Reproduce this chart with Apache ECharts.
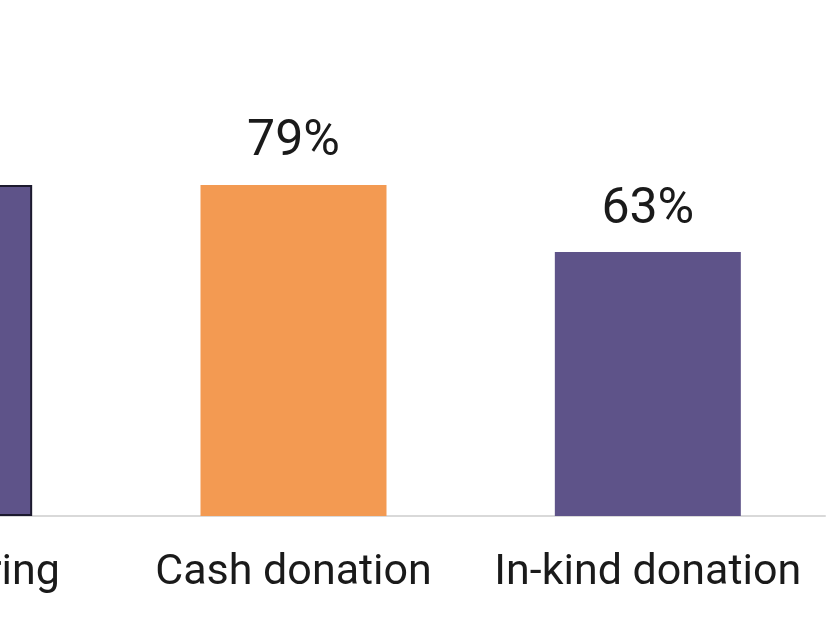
<!DOCTYPE html>
<html>
<head>
<meta charset="utf-8">
<style>html,body{margin:0;padding:0;background:#fff;overflow:hidden;width:830px;height:622px;}
#wrap{position:relative;width:830px;height:622px;overflow:hidden;}
#c{position:absolute;left:-238px;top:0;width:1068px;height:622px;}</style>
<script src="https://cdn.jsdelivr.net/npm/echarts@6/dist/echarts.min.js"></script>
</head>
<body>
<div id="wrap"><div id="c"></div></div>
<script>
const categories = ['Volunteering', 'Cash donation', 'In-kind donation'];
const values = [79, 79, 63];
const barColors = ['#5e5389', '#f39a52', '#5e5389'];

const chart = echarts.init(document.getElementById('c'), null, {renderer: 'canvas'});
chart.setOption({
  animation: false,
  grid: {left: 0, right: 5, top: 97, bottom: 106, containLabel: false},
  xAxis: {
    type: 'category',
    data: categories,
    axisLine: {show: true, lineStyle: {color: '#d9d9d9', width: 2}},
    axisTick: {show: false},
    axisLabel: {interval: 0, color: '#1a1a1a', fontFamily: 'Roboto', fontSize: 43, margin: 36}
  },
  yAxis: {type: 'value', min: 0, max: 100, show: false, splitLine: {show: false}},
  series: [{
    type: 'bar',
    barWidth: 186,
    data: values.map((v, i) => ({
      value: v,
      itemStyle: i === 0 ? {color: barColors[i], borderColor: '#1c1a2e', borderWidth: 2} : {color: barColors[i]}
    })),
    label: {
      show: true, position: 'top', distance: 17,
      formatter: p => p.value + '%',
      color: '#1a1a1a', fontFamily: 'Roboto', fontSize: 50
    }
  }]
});
</script>
</body>
</html>
